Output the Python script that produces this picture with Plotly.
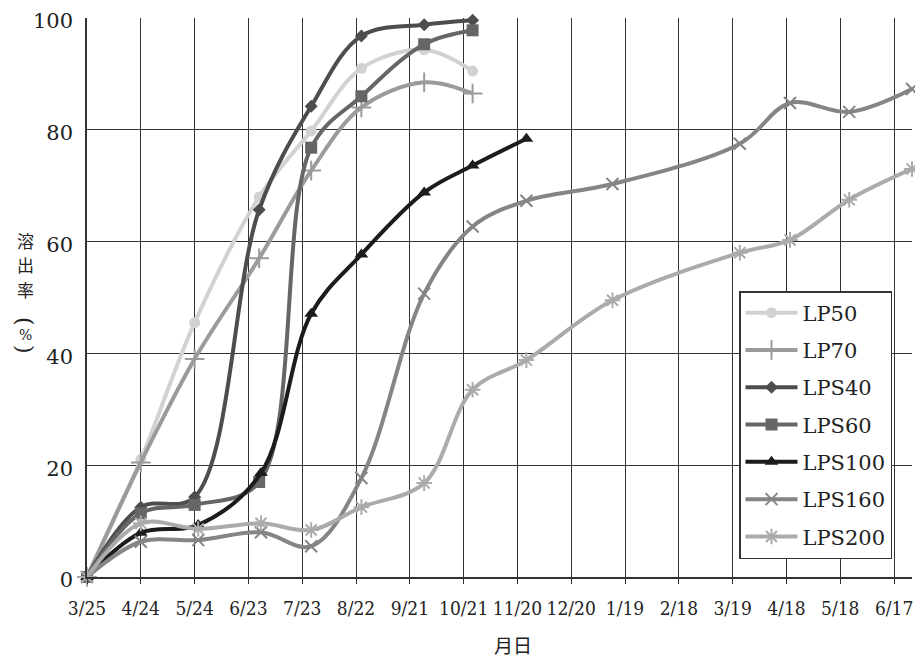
import plotly.graph_objects as go

tick_days = [0, 30, 60, 90, 120, 150, 180, 210, 240, 270, 300, 330, 360, 390, 420, 450]
tick_labels = ["3/25", "4/24", "5/24", "6/23", "7/23", "8/22", "9/21", "10/21",
               "11/20", "12/20", "1/19", "2/18", "3/19", "4/18", "5/18", "6/17"]

days_lp = [0, 30, 60, 96, 125, 153, 188, 215]
days_lps = [0, 30, 62, 97, 125, 153, 188, 215, 245, 293, 364, 392, 425, 460]

lp50 = [0, 21, 45.5, 68, 79.8, 91, 94.3, 90.5]
lp70 = [0, 20.5, 39, 57, 72.7, 84, 88.5, 86.5]
lps40 = [0, 12.5, 14.3, 65.7, 84.2, 96.8, 98.8, 99.6]
lps60 = [0, 11.4, 12.9, 17, 76.8, 86, 95.3, 97.8]
lps100 = [0, 7.9, 9.3, 18.6, 47.1, 57.7, 68.8, 73.6, 78.4]
lps160 = [0, 6.3, 6.6, 8, 5.5, 17.7, 50.7, 62.7, 67.3, 70.3, 77.5, 84.8, 83.2, 87.3]
lps200 = [0, 9.6, 8.6, 9.6, 8.4, 12.5, 16.8, 33.5, 38.8, 49.5, 58, 60.3, 67.5, 73]

y_title_chars = ["溶", "出", "率"]
y_unit_parts = ["(", "%", ")"]
x_title = "月日"

CJK = "Noto Sans CJK JP"
SERIF = "DejaVu Serif"
SERIF_C = "DejaVu Serif Condensed, DejaVu Serif"

series = [
    ("LP50", days_lp, lp50, "#d2d2d2", "circle", 11, None),
    ("LP70", days_lp, lp70, "#9b9b9b", "cross-thin", 14, "#9b9b9b"),
    ("LPS40", days_lp, lps40, "#4d4d4d", "diamond", 10, None),
    ("LPS60", days_lp, lps60, "#666666", "square", 12, None),
    ("LPS100", days_lps[:9], lps100, "#1c1c1c", "triangle-up", 12, None),
    ("LPS160", days_lps, lps160, "#858585", "x-thin", 12, "#858585"),
    ("LPS200", days_lps, lps200, "#ababab", "asterisk", 13, "#ababab"),
]

fig = go.Figure()
for name, xs, ys, col, sym, size, lc in series:
    marker = dict(symbol=sym, size=size, color=col)
    if lc:
        marker["line"] = dict(color=lc, width=2)
    fig.add_trace(go.Scatter(
        x=xs, y=ys, name=name, legendgroup=name, mode="lines+markers",
        line=dict(color=col, width=4, shape="spline", smoothing=1),
        marker=marker, cliponaxis=False,
    ))

# page body has an 8px margin, so the figure is 8px smaller than the window
fig.update_layout(
    width=915, height=652,
    margin=dict(l=79, r=11, t=10, b=83, autoexpand=False),
    plot_bgcolor="white", paper_bgcolor="white",
    font=dict(family=SERIF, color="#222222"),
    showlegend=True,
    legend=dict(
        x=(739 - 87) / 825, y=(577 - 291) / 559, xanchor="left", yanchor="top",
        bgcolor="white", bordercolor="#333333", borderwidth=1.5,
        font=dict(family=SERIF, size=21, color="#222222"),
        traceorder="grouped", tracegroupgap=7, itemwidth=52,
    ),
)
fig.update_xaxes(
    range=[0, 460], tickmode="array", tickvals=tick_days, ticktext=tick_labels,
    showgrid=True, gridcolor="#333333", gridwidth=1,
    showline=True, linecolor="#333333", linewidth=1.5,
    ticks="outside", ticklen=5, tickcolor="#333333",
    tickfont=dict(family=SERIF_C, size=19, color="#222222"),
    ticklabelstandoff=8, ticklabeloverflow="allow",
    zeroline=False, automargin=False,
)
fig.update_yaxes(
    range=[0, 100], tickvals=[0, 20, 40, 60, 80, 100],
    showgrid=True, gridcolor="#333333", gridwidth=1,
    showline=True, linecolor="#333333", linewidth=1.5,
    ticks="", tickfont=dict(family=SERIF, size=21, color="#222222"),
    ticklabelstandoff=8, ticklabelshift=3, ticklabeloverflow="allow",
    zeroline=False, automargin=False,
)

def px_x(px):
    return (px - 87) / 825

def px_y(py):
    return (577 - py) / 559

for ch, py in zip(y_title_chars, [240, 264.5, 289]):
    fig.add_annotation(
        text=ch, x=px_x(25), y=px_y(py), xref="paper", yref="paper",
        xanchor="center", yanchor="middle", showarrow=False,
        font=dict(family=CJK, size=17, color="#222222"),
    )
for part, py, size, ang in zip(y_unit_parts, [321, 335, 349], [22, 14, 22], [90, 0, 90]):
    fig.add_annotation(
        text=part, x=px_x(25), y=px_y(py), xref="paper", yref="paper",
        xanchor="center", yanchor="middle", showarrow=False, textangle=ang,
        font=dict(family=SERIF, size=size, color="#222222"),
    )
fig.add_annotation(
    text=x_title, x=px_x(513), y=px_y(644), xref="paper", yref="paper",
    xanchor="center", yanchor="middle", showarrow=False,
    font=dict(family=CJK, size=19, color="#222222"),
)

fig.write_html("out.html")
